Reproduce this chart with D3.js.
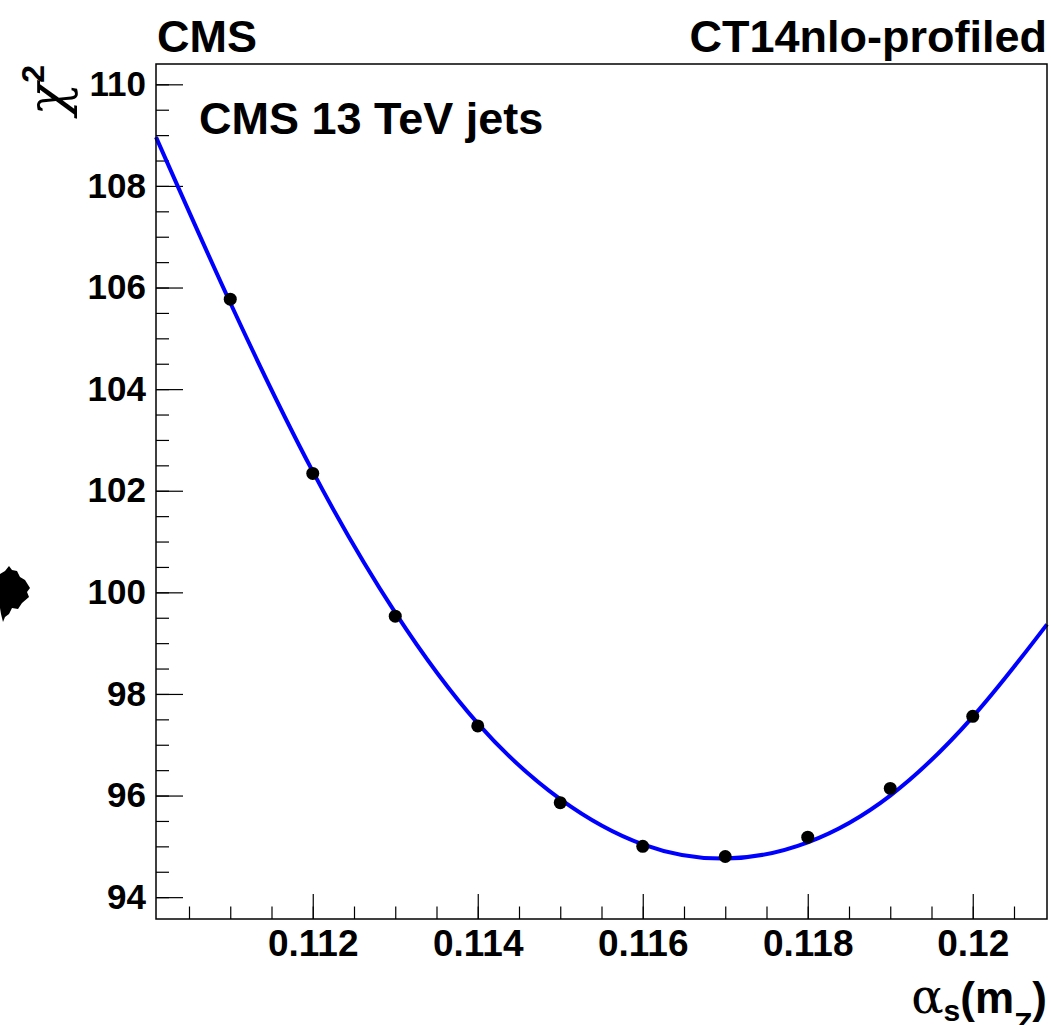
<!DOCTYPE html>
<html lang="en">
<head>
    <title>chi2 vs alpha_s</title>
    <script src="https://d3js.org/d3.v7.min.js"></script>
    <style>
        body { margin: 0; background: white; }
        svg text { font-family: "Liberation Sans", Arial, sans-serif; font-weight: bold; fill: black; }
    </style>
</head>
<body>
    <div id="chart"></div>

    <script>
        // measured chi2 points
        var alphaS = [0.111, 0.112, 0.113, 0.114, 0.115, 0.116, 0.117, 0.118, 0.119, 0.120];
        var chi2 = [105.77, 102.34, 99.53, 97.37, 95.86, 95.00, 94.80, 95.18, 96.14, 97.56];

        // fit curve
        var fitX = [0.1101, 0.111, 0.112, 0.113, 0.114, 0.115, 0.116, 0.117, 0.118, 0.119, 0.120, 0.1209];
        var fitY = [108.96, 105.70, 102.38, 99.60, 97.42, 95.93, 95.04, 94.76, 95.08, 96.00, 97.55, 99.37];

        var xMajor = [0.112, 0.114, 0.116, 0.118, 0.120];
        var xLabels = ["0.112", "0.114", "0.116", "0.118", "0.12"];
        var yMajor = [94, 96, 98, 100, 102, 104, 106, 108, 110];

        var width = 1051, height = 1025;
        var margins = { left: 156, top: 64, right: 4, bottom: 106 };

        var xscale = d3.scaleLinear()
            .domain([0.1101, 0.1209])
            .range([margins.left, width - margins.right]);
        var yscale = d3.scaleLinear()
            .domain([93.57, 110.40])
            .range([height - margins.bottom, margins.top]);

        var svg = d3.select("#chart").append("svg")
            .attr("width", width)
            .attr("height", height);

        var x0 = margins.left, x1 = width - margins.right;
        var y0 = margins.top, y1 = height - margins.bottom;

        // minor ticks (4 divisions per major)
        var xMinor = d3.range(0, 22).map(function (i) { return +(0.1105 + i * 0.0005).toFixed(4); })
            .filter(function (v) { return v <= 0.1209; });
        var yMinor = d3.range(0, 33).map(function (i) { return 94 + i * 0.5; })
            .filter(function (v) { return v <= 110.4; });

        svg.append("g")
            .attr("transform", "translate(0," + y1 + ")")
            .call(d3.axisBottom(xscale).tickValues(xMinor).tickSize(-12.5).tickFormat(""))
            .call(function (g) { g.select(".domain").remove(); });
        svg.append("g")
            .attr("transform", "translate(0," + y1 + ")")
            .call(d3.axisBottom(xscale).tickValues(xMajor).tickSize(-25).tickPadding(11)
                .tickFormat(function (d, i) { return xLabels[i]; }))
            .call(function (g) {
                g.select(".domain").remove();
                g.selectAll("text").attr("font-size", 37).attr("font-family", null);
            });

        svg.append("g")
            .attr("transform", "translate(" + x0 + ",0)")
            .call(d3.axisLeft(yscale).tickValues(yMinor).tickSize(-13).tickFormat(""))
            .call(function (g) { g.select(".domain").remove(); });
        svg.append("g")
            .attr("transform", "translate(" + x0 + ",0)")
            .call(d3.axisLeft(yscale).tickValues(yMajor).tickSize(-27).tickPadding(10))
            .call(function (g) {
                g.select(".domain").remove();
                g.selectAll("text").attr("font-size", 35).attr("font-family", null);
            });

        svg.selectAll(".tick line").attr("stroke", "black").attr("stroke-width", 1.2);

        // fit curve
        var line = d3.line()
            .x(function (d) { return xscale(d[0]); })
            .y(function (d) { return yscale(d[1]); })
            .curve(d3.curveNatural);
        svg.append("path")
            .datum(d3.zip(fitX, fitY))
            .attr("d", line)
            .attr("fill", "none")
            .attr("stroke", "#0000ff")
            .attr("stroke-width", 4);

        // points
        svg.selectAll("circle.pt")
            .data(d3.zip(alphaS, chi2))
            .enter()
            .append("circle")
            .attr("class", "pt")
            .attr("cx", function (d) { return xscale(d[0]); })
            .attr("cy", function (d) { return yscale(d[1]); })
            .attr("r", 6.5)
            .attr("fill", "black");

        // frame
        svg.append("rect")
            .attr("x", x0).attr("y", y0)
            .attr("width", x1 - x0).attr("height", y1 - y0)
            .attr("fill", "none")
            .attr("stroke", "black")
            .attr("stroke-width", 1.5);

        // texts
        svg.append("text").attr("x", 157).attr("y", 52).attr("font-size", 45).text("CMS");
        svg.append("text").attr("x", x1).attr("y", 52).attr("font-size", 45)
            .attr("text-anchor", "end").text("CT14nlo-profiled");
        svg.append("text").attr("x", 199).attr("y", 134).attr("font-size", 45).text("CMS 13 TeV jets");

        // y title
        var yt = svg.append("text")
            .attr("transform", "translate(66," + (y0 + 1) + ") rotate(-90)")
            .attr("text-anchor", "end");
        yt.append("tspan").attr("font-family", "DejaVu Serif, serif").attr("font-weight", "normal")
            .attr("font-style", "italic").attr("font-size", 54).text("χ");
        yt.append("tspan").attr("font-size", 32).attr("dy", -22).text("2");

        // x title
        var xt = svg.append("text")
            .attr("x", x1).attr("y", 1013)
            .attr("text-anchor", "end");
        xt.append("tspan").attr("font-family", "DejaVu Serif, serif").attr("font-weight", "normal")
            .attr("font-size", 48).text("α");
        xt.append("tspan").attr("font-size", 30).attr("dy", 8).text("s");
        xt.append("tspan").attr("font-size", 44).attr("dy", -8).text("(m");
        xt.append("tspan").attr("font-size", 30).attr("dy", 20).text("Z");
        xt.append("tspan").attr("font-size", 44).attr("dy", -20).text(")");

        // stray ink blob at left edge
        svg.append("path")
            .attr("d", "M0,574 L5,571 L9,566 L12,570 L17,571 L20,577 L25,580 L30,588 L27,592 L29,597 L22,603 L18,609 L12,608 L9,614 L5,617 L3,622 L1,614 L0,608 Z")
            .attr("fill", "black");
    </script>
</body>
</html>
